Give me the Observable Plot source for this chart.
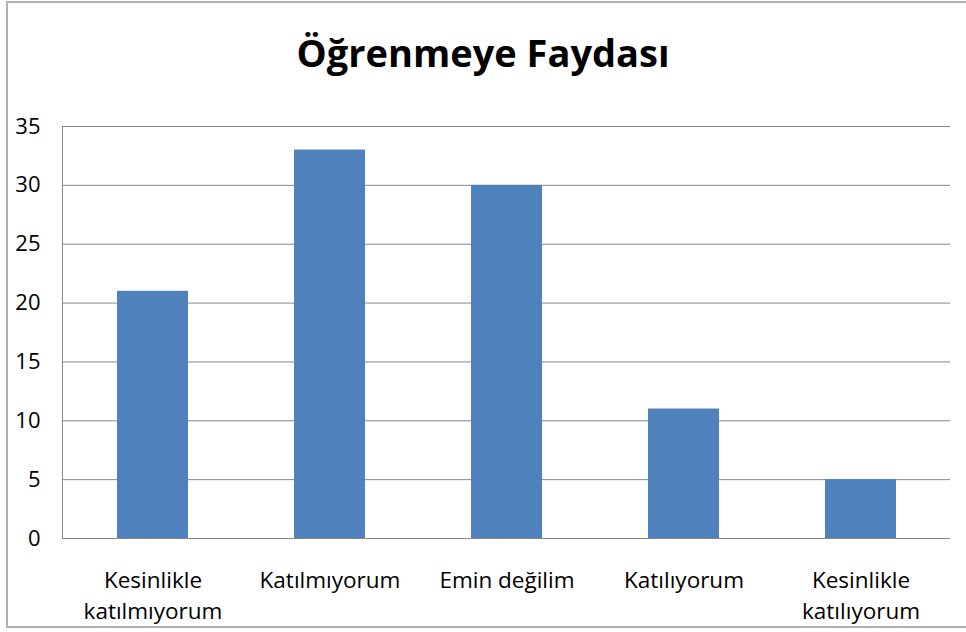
<!DOCTYPE html>
<html>
<head>
<meta charset="utf-8">
<script src="https://cdn.jsdelivr.net/npm/d3@7"></script>
<script src="https://cdn.jsdelivr.net/npm/@observablehq/plot@0.6"></script>
<style>
  body { margin: 0; background: #fff; }
  #wrap { position: relative; width: 966px; height: 632px; overflow: hidden; font-family: "Open Sans", sans-serif; }
  #border { position: absolute; left: 6px; top: 1px; width: 980px; height: 627px; border: 2px solid #b0b0b0; box-sizing: border-box; }
  #title { position: absolute; left: 0; top: 33px; width: 966px; text-align: center; font-size: 38px; line-height: 38px; font-weight: bold; color: #000; }
  #chart { position: absolute; left: 0; top: 0; }
</style>
</head>
<body>
<div id="wrap">
  <div id="border"></div>
  <div id="chart"></div>
  <div id="title">Öğrenmeye Faydası</div>
</div>
<script>
const categories = ["Kesinlikle\nkatılmıyorum", "Katılmıyorum", "Emin değilim", "Katılıyorum", "Kesinlikle\nkatılıyorum"];
const values = [21, 33, 30, 11, 5];
const yTicks = [0, 5, 10, 15, 20, 25, 30, 35];

const data = categories.map((c, i) => ({category: c, value: values[i]}));

const chart = Plot.plot({
  width: 966,
  height: 632,
  marginTop: 126,
  marginBottom: 94,
  marginLeft: 62,
  marginRight: 16,
  style: {fontFamily: "'Open Sans', sans-serif", fontSize: "22px", color: "#000", background: "transparent"},
  x: {domain: categories, paddingInner: 0.6, paddingOuter: 0.3, label: null},
  y: {domain: [0, 35], ticks: yTicks, label: null},
  marks: [
    Plot.gridY(yTicks, {stroke: "#888", strokeOpacity: 1, strokeWidth: 1}),
    Plot.frame({anchor: "left", stroke: "#888"}),
    Plot.barY(data, {x: "category", y: "value", fill: "#4f81bd"}),
    Plot.ruleY([0], {stroke: "#888"}),
    Plot.axisY(yTicks, {tickSize: 0, tickPadding: 22, fontSize: 22, fill: "#000"}),
    Plot.axisX({tickSize: 0, tickPadding: 28, fontSize: 22.5, lineHeight: 1.36, fill: "#000"})
  ]
});
document.getElementById("chart").appendChild(chart);
</script>
</body>
</html>
